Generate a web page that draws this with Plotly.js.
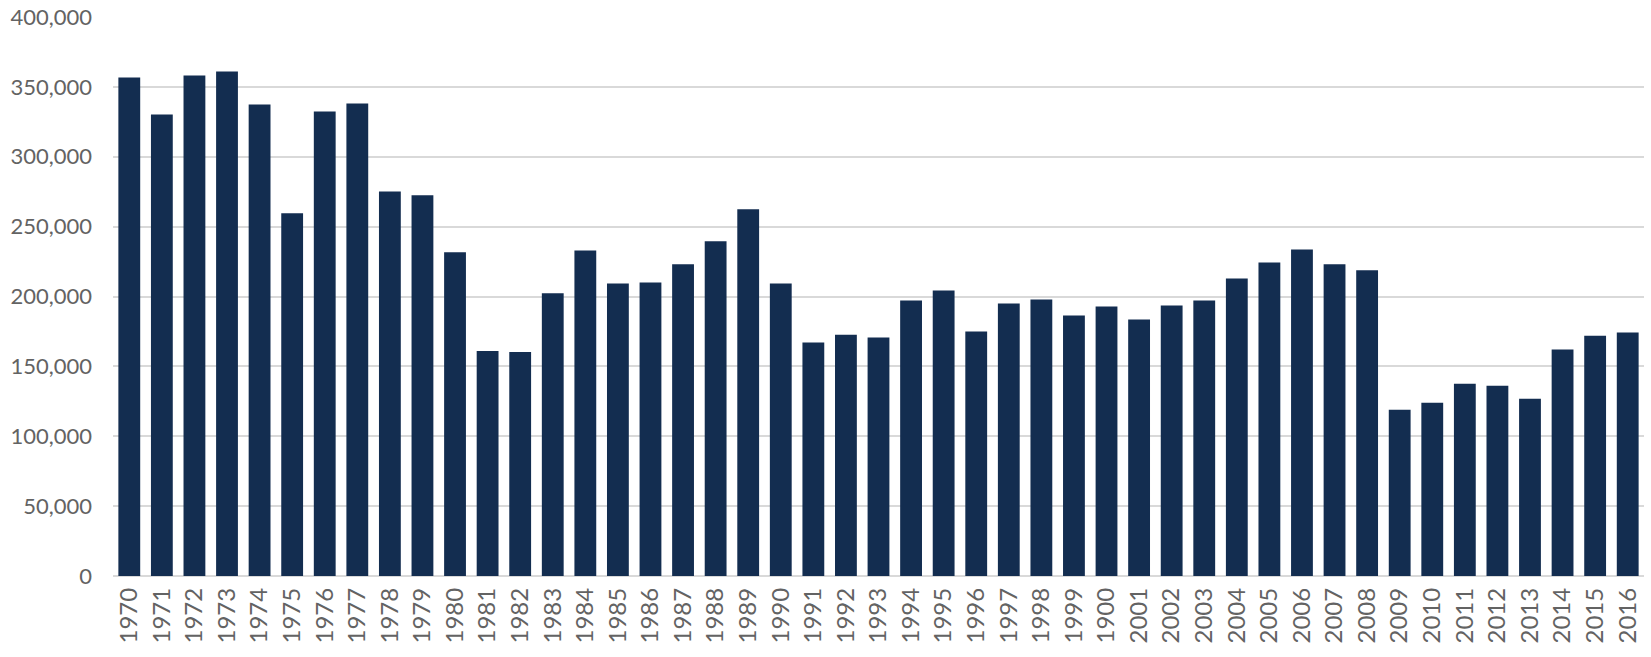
<!DOCTYPE html>
<html>
<head>
<meta charset="utf-8">
<script src="https://cdn.plot.ly/plotly-3.0.1.min.js"></script>
<style>
  html, body { margin: 0; padding: 0; background: #fff; }
  #chart { width: 1651px; height: 657px; }
</style>
</head>
<body>
<div id="chart"></div>
<script>
// year labels as printed on the chart (including the "1900" typo)
var years = ['1970', '1971', '1972', '1973', '1974', '1975', '1976', '1977', '1978', '1979',
  '1980', '1981', '1982', '1983', '1984', '1985', '1986', '1987', '1988', '1989',
  '1990', '1991', '1992', '1993', '1994', '1995', '1996', '1997', '1998', '1999',
  '1900', '2001', '2002', '2003', '2004', '2005', '2006', '2007', '2008', '2009',
  '2010', '2011', '2012', '2013', '2014', '2015', '2016']

var counts = [356700, 330200, 358100, 361000, 337400, 259500, 332400, 338100, 275200, 272400,
  231700, 161000, 160200, 202300, 233000, 209300, 210100, 223000, 239500, 262400,
  209300, 167000, 172700, 170600, 197100, 204300, 174900, 195000, 197900, 186400,
  192800, 183500, 193600, 197100, 212900, 224400, 233700, 223000, 218700, 118900,
  123900, 137600, 136100, 126800, 162000, 172000, 174200]

var yTicks = [0, 50000, 100000, 150000, 200000, 250000, 300000, 350000, 400000]

var el = document.getElementById('chart')

let dataset = [{
  x: years,
  y: counts,
  type: 'bar',
  marker: { color: '#132d50' },
  hoverinfo: 'x+y'
}]

let layout = {
  width: 1651,
  height: 657,
  margin: { t: 17, b: 81, l: 113, r: 7 },
  paper_bgcolor: '#ffffff',
  plot_bgcolor: '#ffffff',
  showlegend: false,
  bargap: 0.33,
  font: { family: 'Lato, "Open Sans", sans-serif', color: '#595959' },
  xaxis: {
    type: 'category',
    tickangle: -90,
    tickfont: { size: 24, color: '#636363' },
    showgrid: false,
    showline: false,
    zeroline: false,
    ticks: '',
    ticklabelstandoff: 6
  },
  yaxis: {
    range: [0, 400000],
    tickvals: yTicks,
    tickformat: ',',
    tickfont: { size: 22, color: '#636363' },
    showgrid: true,
    gridcolor: '#d9d9d9',
    gridwidth: 2,
    zeroline: true,
    zerolinecolor: '#d9d9d9',
    zerolinewidth: 2,
    showline: false,
    ticks: '',
    ticklabelstandoff: 20
  }
}

let config = {
  responsive: false,
  displayModeBar: false
}

Plotly.newPlot(el, dataset, layout, config)
</script>
</body>
</html>
